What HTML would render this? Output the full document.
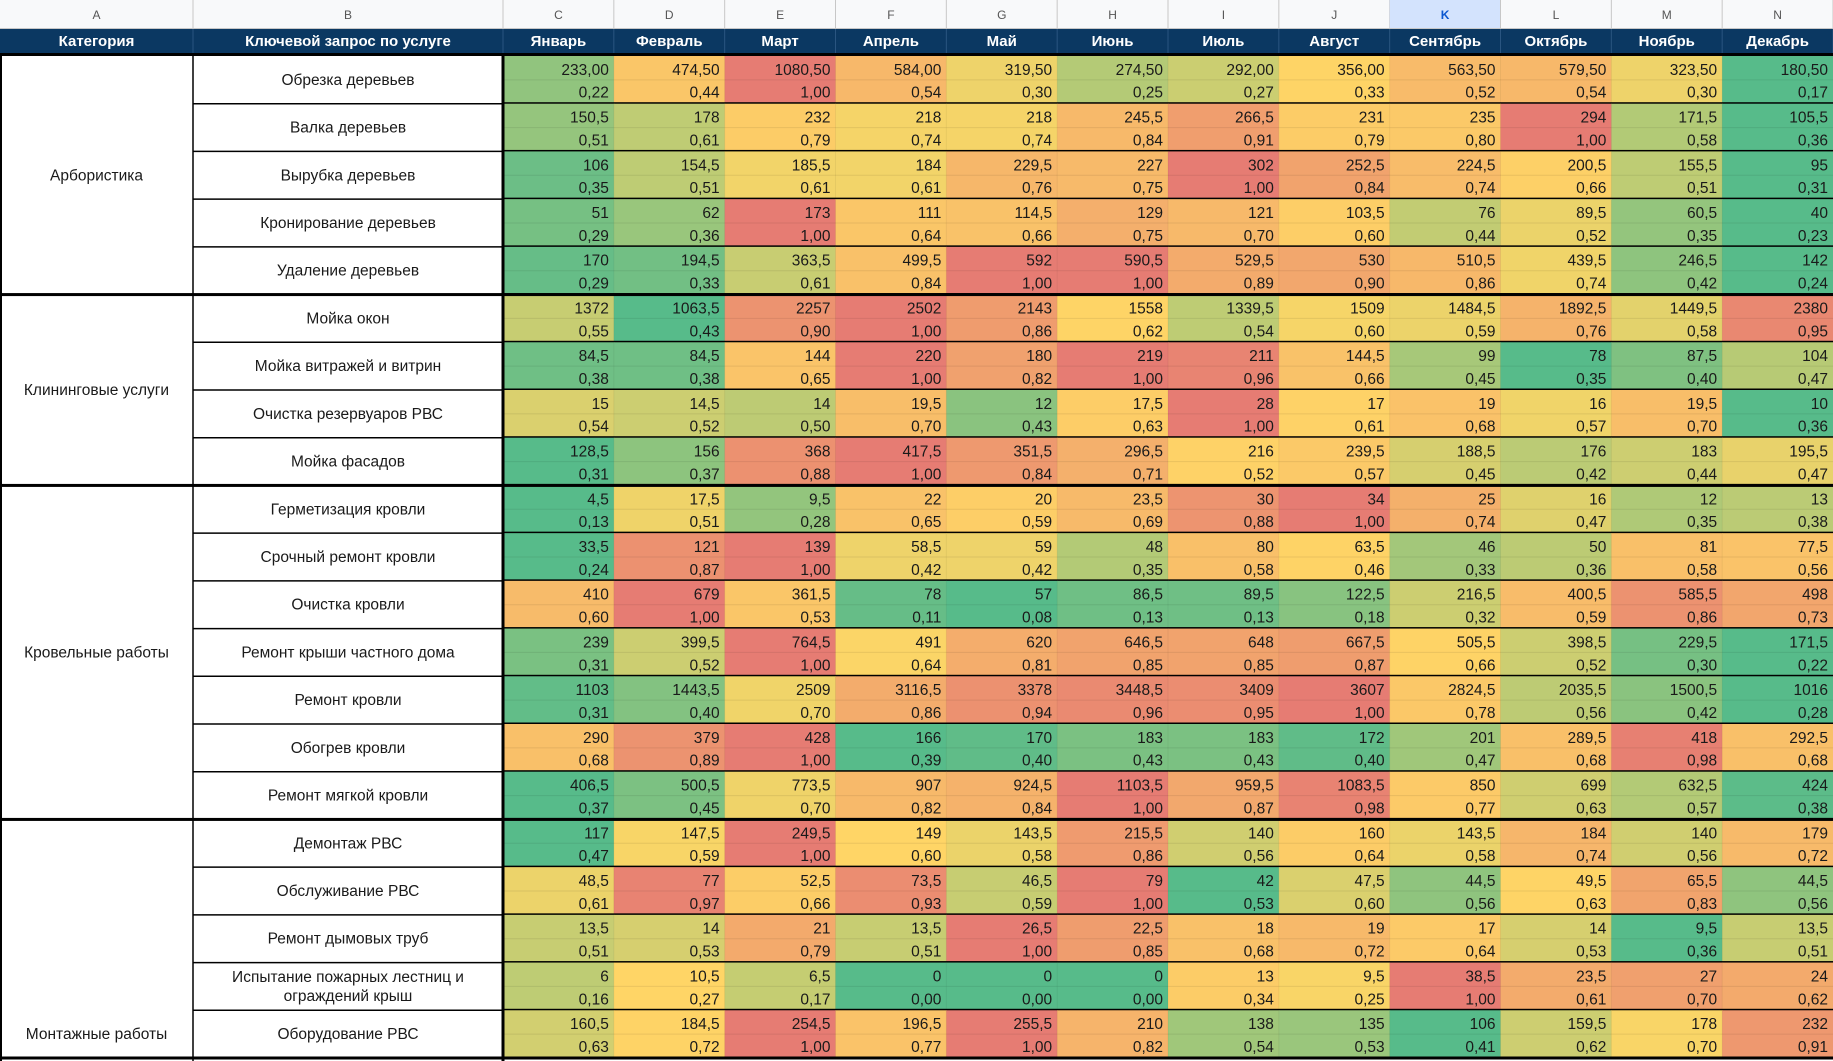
<!DOCTYPE html>
<html><head><meta charset="utf-8"><style>
body{margin:0;background:#fff;}
svg{display:block;font-family:"Liberation Sans",Arial,sans-serif;}
</style></head><body>
<svg id="sheet" width="1833" height="1061" viewBox="0 0 1833 1061" xmlns="http://www.w3.org/2000/svg"></svg>
<script>
const months = ["Январь","Февраль","Март","Апрель","Май","Июнь","Июль","Август","Сентябрь","Октябрь","Ноябрь","Декабрь"];
const colLetters = ["A","B","C","D","E","F","G","H","I","J","K","L","M","N"];
const categories = ["Арбористика","Клининговые услуги","Кровельные работы","Монтажные работы"];
const categoryRowCounts = [5,4,7,5];
const queries = ["Обрезка деревьев","Валка деревьев","Вырубка деревьев","Кронирование деревьев","Удаление деревьев","Мойка окон","Мойка витражей и витрин","Очистка резервуаров РВС","Мойка фасадов","Герметизация кровли","Срочный ремонт кровли","Очистка кровли","Ремонт крыши частного дома","Ремонт кровли","Обогрев кровли","Ремонт мягкой кровли","Демонтаж РВС","Обслуживание РВС","Ремонт дымовых труб","Испытание пожарных лестниц и|ограждений крыш","Оборудование РВС"];
const values = [
[233,474.5,1080.5,584,319.5,274.5,292,356,563.5,579.5,323.5,180.5],
[150.5,178,232,218,218,245.5,266.5,231,235,294,171.5,105.5],
[106,154.5,185.5,184,229.5,227,302,252.5,224.5,200.5,155.5,95],
[51,62,173,111,114.5,129,121,103.5,76,89.5,60.5,40],
[170,194.5,363.5,499.5,592,590.5,529.5,530,510.5,439.5,246.5,142],
[1372,1063.5,2257,2502,2143,1558,1339.5,1509,1484.5,1892.5,1449.5,2380],
[84.5,84.5,144,220,180,219,211,144.5,99,78,87.5,104],
[15,14.5,14,19.5,12,17.5,28,17,19,16,19.5,10],
[128.5,156,368,417.5,351.5,296.5,216,239.5,188.5,176,183,195.5],
[4.5,17.5,9.5,22,20,23.5,30,34,25,16,12,13],
[33.5,121,139,58.5,59,48,80,63.5,46,50,81,77.5],
[410,679,361.5,78,57,86.5,89.5,122.5,216.5,400.5,585.5,498],
[239,399.5,764.5,491,620,646.5,648,667.5,505.5,398.5,229.5,171.5],
[1103,1443.5,2509,3116.5,3378,3448.5,3409,3607,2824.5,2035.5,1500.5,1016],
[290,379,428,166,170,183,183,172,201,289.5,418,292.5],
[406.5,500.5,773.5,907,924.5,1103.5,959.5,1083.5,850,699,632.5,424],
[117,147.5,249.5,149,143.5,215.5,140,160,143.5,184,140,179],
[48.5,77,52.5,73.5,46.5,79,42,47.5,44.5,49.5,65.5,44.5],
[13.5,14,21,13.5,26.5,22.5,18,19,17,14,9.5,13.5],
[6,10.5,6.5,0,0,0,13,9.5,38.5,23.5,27,24],
[160.5,184.5,254.5,196.5,255.5,210,138,135,106,159.5,178,232]
];
const ratios = [
[.22,.44,1,.54,.30,.25,.27,.33,.52,.54,.30,.17],
[.51,.61,.79,.74,.74,.84,.91,.79,.80,1,.58,.36],
[.35,.51,.61,.61,.76,.75,1,.84,.74,.66,.51,.31],
[.29,.36,1,.64,.66,.75,.70,.60,.44,.52,.35,.23],
[.29,.33,.61,.84,1,1,.89,.90,.86,.74,.42,.24],
[.55,.43,.90,1,.86,.62,.54,.60,.59,.76,.58,.95],
[.38,.38,.65,1,.82,1,.96,.66,.45,.35,.40,.47],
[.54,.52,.50,.70,.43,.63,1,.61,.68,.57,.70,.36],
[.31,.37,.88,1,.84,.71,.52,.57,.45,.42,.44,.47],
[.13,.51,.28,.65,.59,.69,.88,1,.74,.47,.35,.38],
[.24,.87,1,.42,.42,.35,.58,.46,.33,.36,.58,.56],
[.60,1,.53,.11,.08,.13,.13,.18,.32,.59,.86,.73],
[.31,.52,1,.64,.81,.85,.85,.87,.66,.52,.30,.22],
[.31,.40,.70,.86,.94,.96,.95,1,.78,.56,.42,.28],
[.68,.89,1,.39,.40,.43,.43,.40,.47,.68,.98,.68],
[.37,.45,.70,.82,.84,1,.87,.98,.77,.63,.57,.38],
[.47,.59,1,.60,.58,.86,.56,.64,.58,.74,.56,.72],
[.61,.97,.66,.93,.59,1,.53,.60,.56,.63,.83,.56],
[.51,.53,.79,.51,1,.85,.68,.72,.64,.53,.36,.51],
[.16,.27,.17,0,0,0,.34,.25,1,.61,.70,.62],
[.63,.72,1,.77,1,.82,.54,.53,.41,.62,.70,.91]
];
const twoDecimalRows = [0];

const NS="http://www.w3.org/2000/svg";
const svg=document.getElementById("sheet");
const W=1833, XA=0, XB=193, XM=503, MW=(W-XM)/12, TOP=56, RH=(1061-3-TOP)/queries.length;
function colX(i){return XM+i*MW;}
function rowY(r){return TOP+r*RH;}
function mk(tag,attrs,parent){const e=document.createElementNS(NS,tag);for(const k in attrs)e.setAttribute(k,attrs[k]);(parent||svg).appendChild(e);return e;}
function mix(a,b,t){t=Math.max(0,Math.min(1,t));const p=x=>[parseInt(x.slice(1,3),16),parseInt(x.slice(3,5),16),parseInt(x.slice(5,7),16)];const A=p(a),B=p(b);return "rgb("+A.map((v,i)=>Math.round(v+(B[i]-v)*t)).join(",")+")";}
function scaleColor(v,row){
  const s=[...row].sort((a,b)=>a-b);const n=s.length;
  const mn=s[0],mx=s[n-1],md=(s[(n-1)>>1]+s[n>>1])/2;
  if(v<=md){return mix("#57bb8a","#ffd666",md>mn?(v-mn)/(md-mn):1);}
  return mix("#ffd666","#e67c73",mx>md?(v-md)/(mx-md):0);
}
function fmt(v,r){return twoDecimalRows.includes(r)?v.toFixed(2).replace(".",","):String(v).replace(".",",");}

let e=mk("rect",{x:0,y:0,width:W,height:29,fill:"#f8f9fa"});


const letterEdges=[XA,XB,XM];for(let i=1;i<=12;i++)letterEdges.push(colX(i));
for(let i=0;i<14;i++){
  const x0=letterEdges[i],x1=letterEdges[i+1];
  if(colLetters[i]==="K"){mk("rect",{x:x0,y:0,width:x1-x0,height:29,fill:"#d3e3fd"});}
  mk("line",{x1:x1,y1:0,x2:x1,y2:29,stroke:"#c7c7c7","stroke-width":1});
  const t=mk("text",{x:(x0+x1)/2,y:19,"text-anchor":"middle","font-size":12,fill:colLetters[i]==="K"?"#0b57d0":"#555","font-weight":colLetters[i]==="K"?"bold":"normal"});
  t.textContent=colLetters[i];
  
  
}
mk("line",{x1:0,y1:28.5,x2:W,y2:28.5,stroke:"#c7c7c7"});
e=mk("rect",{x:0,y:29,width:W,height:24,fill:"#0b3862"});


const heads=["Категория","Ключевой запрос по услуге"].concat(months);
for(let i=0;i<14;i++){
  const x0=letterEdges[i],x1=letterEdges[i+1];
  mk("line",{x1:x1,y1:29,x2:x1,y2:53,stroke:"#2a5580","stroke-width":1});
  const t=mk("text",{x:(x0+x1)/2,y:46,"text-anchor":"middle","font-size":15,"font-weight":"bold",fill:"#fff"});
  t.textContent=heads[i];
  
  
}
mk("rect",{x:0,y:53,width:W,height:3,fill:"#000"});

for(let r=0;r<queries.length;r++){
  const y=rowY(r);
  for(let c=0;c<12;c++){
    const x=colX(c);
    const rc=mk("rect",{x:x,y:y,width:MW+0.5,height:RH+0.5,fill:scaleColor(ratios[r][c],ratios[r])});
    
    
    mk("line",{x1:x,y1:y+RH/2,x2:x+MW,y2:y+RH/2,stroke:"rgba(0,0,0,0.08)"});
    mk("line",{x1:x,y1:y,x2:x,y2:y+RH,stroke:"rgba(0,0,0,0.05)"});
    const tv=mk("text",{x:x+MW-5,y:y+RH/2-5,"text-anchor":"end","font-size":15.5,fill:"#1a1a1a"});
    tv.textContent=fmt(values[r][c],r);
    
    
    const tr=mk("text",{x:x+MW-5,y:y+RH-6,"text-anchor":"end","font-size":15.5,fill:"#1a1a1a"});
    tr.textContent=ratios[r][c].toFixed(2).replace(".",",");
    
    
  }
  const lines=queries[r].split("|");
  lines.forEach((ln,i)=>{
    const t=mk("text",{x:(XB+XM)/2,y:y+RH/2+5+(i-(lines.length-1)/2)*19,"text-anchor":"middle","font-size":15.5,fill:"#1a1a1a"});
    t.textContent=ln;
    
    
  });
  mk("line",{x1:XB,y1:y+RH,x2:XM,y2:y+RH,stroke:"#000","stroke-width":1.5});
  mk("rect",{x:XM,y:y+RH-1.5,width:W-XM,height:3,fill:"#000"});
}
let start=0;
categories.forEach((cat,i)=>{
  const n=categoryRowCounts[i];const y0=rowY(start),y1=rowY(start+n);
  const ty=i===categories.length-1?rowY(start+n-1)+RH/2+5:(y0+y1)/2+5;
  const t=mk("text",{x:(XA+XB)/2,y:ty,"text-anchor":"middle","font-size":15.5,fill:"#1a1a1a"});
  t.textContent=cat;
  
  
  mk("rect",{x:0,y:y1-1.5,width:W,height:3,fill:"#000"});
  start+=n;
});
mk("rect",{x:0,y:53,width:2,height:1008,fill:"#000"});
mk("line",{x1:XB,y1:56,x2:XB,y2:1061,stroke:"#000","stroke-width":1.5});
mk("rect",{x:XM-1.5,y:53,width:3,height:1008,fill:"#000"});
</script>
</body></html>
